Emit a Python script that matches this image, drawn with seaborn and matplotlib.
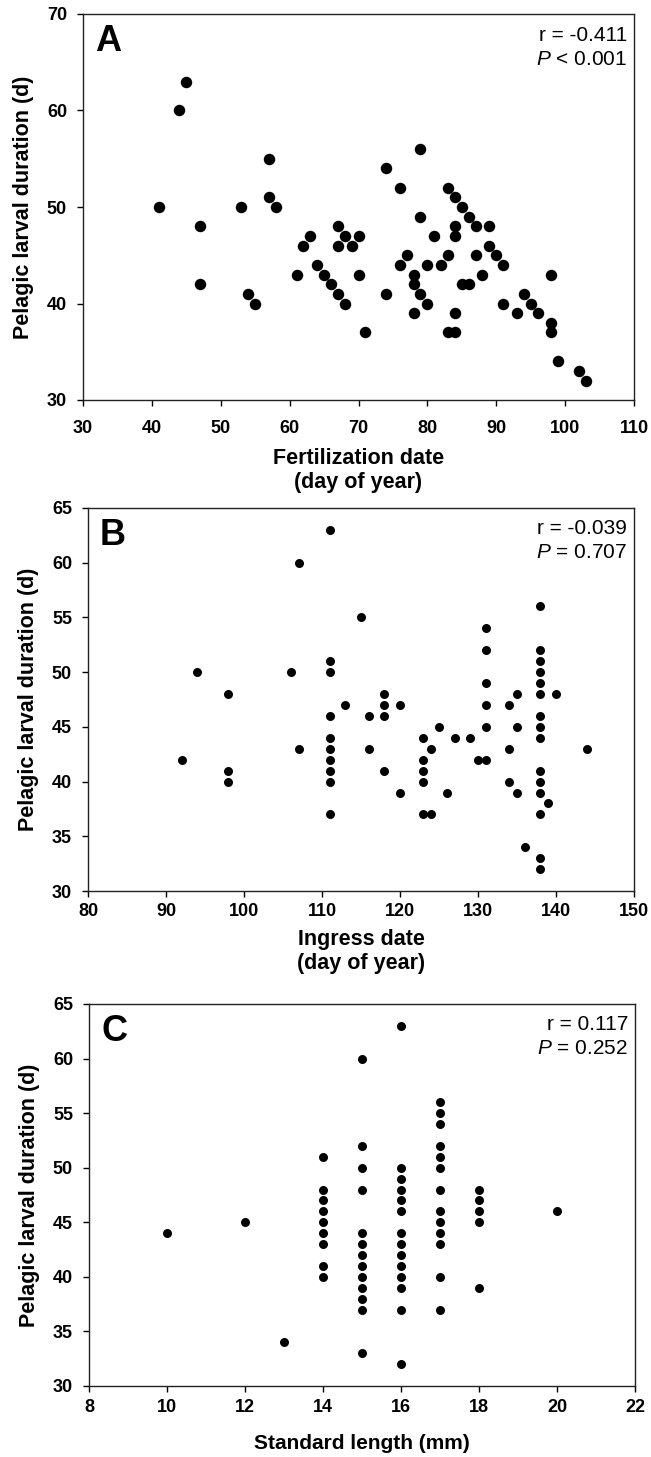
import matplotlib
matplotlib.use("Agg")
import matplotlib.pyplot as plt
import matplotlib.transforms as mtrans
import seaborn as sns
import pandas as pd

# Panel A: fertilization date vs PLD
fert_date = [41, 44, 45, 47, 47, 53, 54, 55, 57, 57, 58, 61, 62, 63, 64, 65, 66, 67, 67, 67,
             68, 68, 69, 70, 70, 71, 74, 74, 76, 76, 77, 78, 78, 78, 79, 79, 79, 80, 80, 81,
             82, 83, 83, 83, 84, 84, 84, 84, 84, 85, 85, 86, 86, 87, 87, 88, 89, 89, 90, 91,
             91, 93, 94, 95, 96, 98, 98, 98, 99, 102, 103]
pld_a = [50, 60, 63, 48, 42, 50, 41, 40, 55, 51, 50, 43, 46, 47, 44, 43, 42, 48, 46, 41,
         47, 40, 46, 47, 43, 37, 54, 41, 52, 44, 45, 43, 42, 39, 56, 49, 41, 44, 40, 47,
         44, 52, 45, 37, 51, 48, 47, 39, 37, 50, 42, 49, 42, 48, 45, 43, 48, 46, 45, 44,
         40, 39, 41, 40, 39, 43, 38, 37, 34, 33, 32]

# Panel B: ingress date vs PLD
ingress_date = [92, 94, 98, 98, 98, 106, 107, 107, 111, 111, 111, 111, 111, 111, 111, 111, 111, 111,
                113, 115, 116, 116, 118, 118, 118, 118, 120, 120, 123, 123, 123, 123, 123, 124, 124,
                125, 126, 127, 129, 130, 131, 131, 131, 131, 131, 131, 134, 134, 134, 135, 135, 135,
                136, 138, 138, 138, 138, 138, 138, 138, 138, 138, 138, 138, 138, 138, 138, 138,
                139, 140, 144]
pld_b = [42, 50, 48, 41, 40, 50, 60, 43, 63, 51, 50, 46, 44, 43, 42, 41, 40, 37,
         47, 55, 46, 43, 48, 47, 46, 41, 47, 39, 44, 42, 41, 40, 37, 43, 37,
         45, 39, 44, 44, 42, 42, 54, 52, 49, 47, 45, 47, 43, 40, 48, 45, 39,
         34, 56, 52, 51, 50, 49, 48, 46, 45, 44, 41, 40, 39, 37, 33, 32,
         38, 48, 43]

# Panel C: standard length vs PLD
std_length = [10, 12, 13,
              14, 14, 14, 14, 14, 14, 14, 14, 14,
              15, 15, 15, 15, 15, 15, 15, 15, 15, 15, 15, 15, 15,
              16, 16, 16, 16, 16, 16, 16, 16, 16, 16, 16, 16, 16, 16,
              17, 17, 17, 17, 17, 17, 17, 17, 17, 17, 17, 17, 17,
              18, 18, 18, 18, 18,
              20]
pld_c = [44, 45, 34,
         51, 48, 47, 46, 45, 44, 43, 41, 40,
         60, 52, 50, 48, 44, 43, 42, 41, 40, 39, 38, 37, 33,
         63, 50, 49, 48, 47, 46, 44, 43, 42, 41, 40, 39, 37, 32,
         56, 55, 54, 52, 51, 50, 48, 46, 45, 44, 43, 40, 37,
         48, 47, 46, 45, 39,
         46]

panel_letters = ["A", "B", "C"]
stats_r = ["r = -0.411", "r = -0.039", "r = 0.117"]
stats_p = ["< 0.001", "= 0.707", "= 0.252"]
xlabels = ["Fertilization date\n(day of year)", "Ingress date\n(day of year)", "Standard length (mm)"]
ylabel = "Pelagic larval duration (d)"
xticks = [list(range(30, 111, 10)), list(range(80, 151, 10)), list(range(8, 23, 2))]
yticks = [list(range(30, 71, 10)), list(range(30, 66, 5)), list(range(30, 66, 5))]

sns.set_style("ticks")
plt.rcParams["font.family"] = ["Liberation Sans", "DejaVu Sans"]
plt.rcParams["text.color"] = "black"
plt.rcParams["axes.labelcolor"] = "black"
plt.rcParams["mathtext.fontset"] = "custom"
plt.rcParams["mathtext.it"] = "Liberation Sans:italic"
plt.rcParams["mathtext.rm"] = "Liberation Sans"

W, H = 651, 1457
fig = plt.figure(figsize=(W / 100, H / 100), dpi=100)

boxes = [(83, 634, 14, 400), (88, 634, 508, 891), (89, 635, 1004, 1386)]
datasets = [
    pd.DataFrame({"x": fert_date, "y": pld_a}),
    pd.DataFrame({"x": ingress_date, "y": pld_b}),
    pd.DataFrame({"x": std_length, "y": pld_c}),
]
sizes = [68, 42, 42]
xtick_pads = [10.5, 5, 5]
xlabel_pads = [8, 6, 13]
xlabel_sizes = [15.5, 15.5, 15]

for i, (l, r, t, b) in enumerate(boxes):
    ax = fig.add_axes([l / W, 1 - b / H, (r - l) / W, (b - t) / H])
    sns.scatterplot(data=datasets[i], x="x", y="y", ax=ax, color="black",
                    s=sizes[i], linewidth=0, legend=False, zorder=3, clip_on=False)
    ax.set_xlim(xticks[i][0], xticks[i][-1])
    ax.set_ylim(yticks[i][0], yticks[i][-1])
    ax.set_xticks(xticks[i])
    ax.set_yticks(yticks[i])
    ax.tick_params(direction="out", length=4, width=1, labelsize=13, colors="black")
    ax.tick_params(axis="x", pad=xtick_pads[i])
    ax.tick_params(axis="y", pad=7.5)
    for lab in ax.get_xticklabels() + ax.get_yticklabels():
        lab.set_fontweight("bold")
    for sp in ax.spines.values():
        sp.set_visible(True)
        sp.set_linewidth(1)
        sp.set_color("#222222")
    ax.set_xlabel(xlabels[i], fontsize=xlabel_sizes[i], fontweight="bold", labelpad=xlabel_pads[i],
                  linespacing=1.2, color="black")
    ax.set_ylabel(ylabel, fontsize=15.5, fontweight="bold", labelpad=9.5, color="black")
    ax.text(0.022, 0.975, panel_letters[i], transform=ax.transAxes, ha="left", va="top",
            fontsize=26, fontweight="bold", color="black")
    ax.text(0.987, 0.97, stats_r[i], transform=ax.transAxes, ha="right", va="top",
            fontsize=15, color="black")
    tr2 = mtrans.offset_copy(ax.transAxes, fig=fig, x=0, y=-24, units="dots")
    ax.text(0.987, 0.97, r"$\mathit{P}$ " + stats_p[i], transform=tr2,
            ha="right", va="top", fontsize=15, color="black")

fig.savefig("out.png", dpi=100)
